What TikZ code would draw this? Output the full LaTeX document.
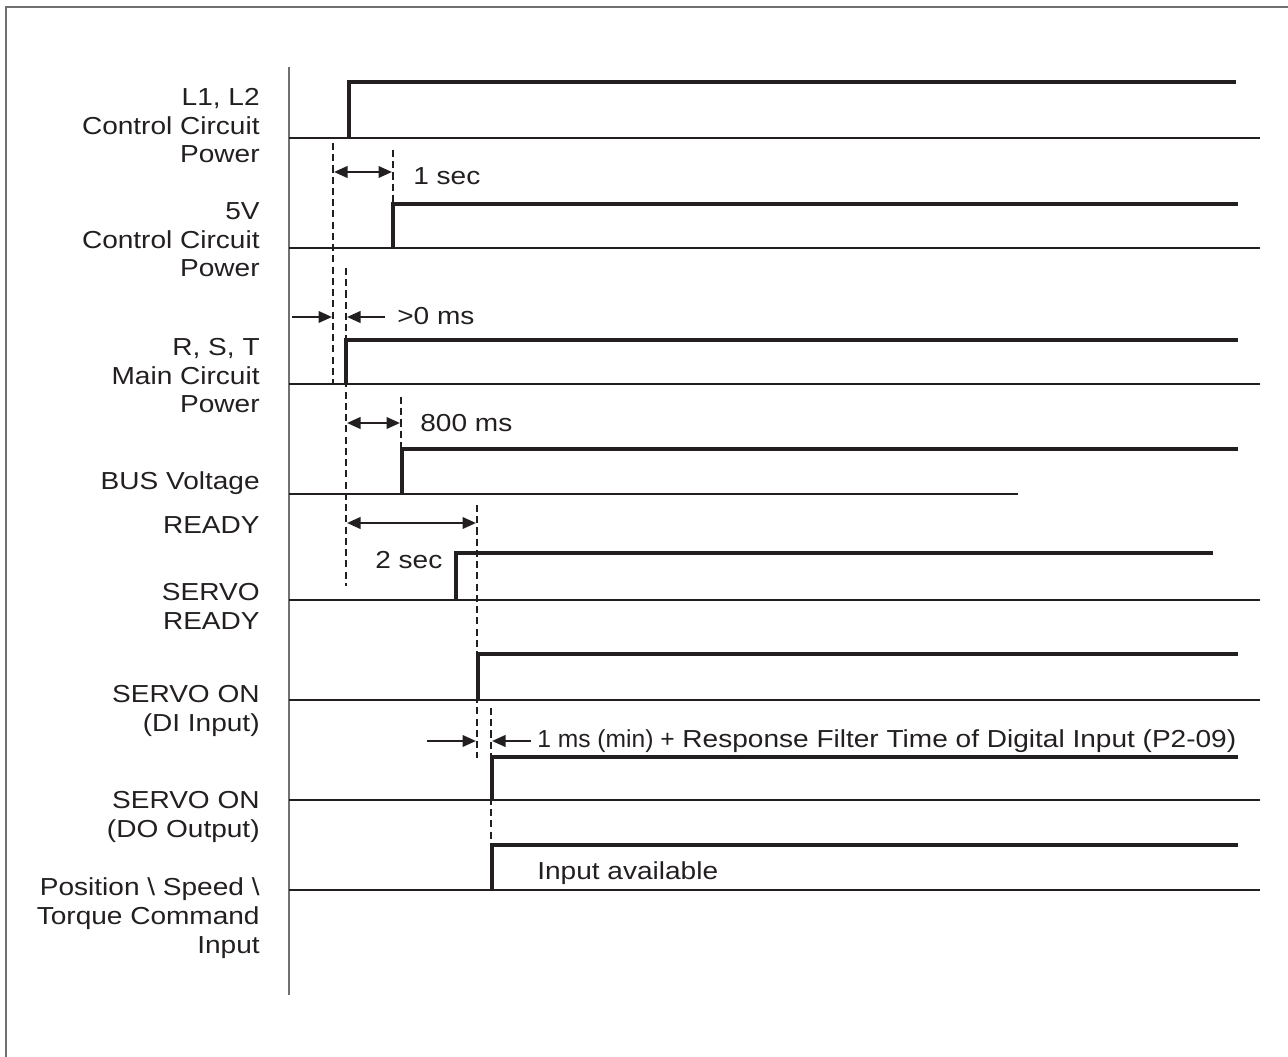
\documentclass[tikz,border=0pt]{standalone}
\usepackage{fontspec}
\setmainfont{Liberation Sans}[FakeStretch=1.14]
\newfontfamily\condensedfont{Liberation Sans}
\usetikzlibrary{arrows.meta}
\definecolor{frameGray}{RGB}{112,112,112}
\definecolor{inkBlack}{RGB}{35,31,32}
\tikzset{
  baseln/.style={inkBlack,line width=1pt},
  sigline/.style={inkBlack,line width=1.8pt},
  guideline/.style={inkBlack,line width=1.4pt,dash pattern=on 4pt off 2.4pt},
  dimarrow/.style={inkBlack,line width=1.3pt,-{Triangle[length=2.7mm,width=2.3mm]}},
  dimboth/.style={dimarrow,{Triangle[length=2.7mm,width=2.3mm]}-{Triangle[length=2.7mm,width=2.3mm]}},
  rowlabel/.style={align=right,anchor=base east,inner sep=0pt,text=inkBlack,font=\fontsize{14}{16.5}\selectfont},
  timenote/.style={anchor=base west,inner sep=0pt,text=inkBlack,font=\fontsize{14}{16.5}\selectfont}
}

\begin{document}
\begin{tikzpicture}[x=0.02cm,y=-0.02cm]
\useasboundingbox (0,0) rectangle (1288,1057);
\draw[frameGray,line width=1.2pt] (1288,7) -- (6,7) -- (6,1057);
\draw[frameGray,line width=1.2pt] (289,67) -- (289,995);

\foreach \y in {138,248,384,600,700,800,890}
  \draw[baseln] (289,\y) -- (1260,\y);
\draw[baseln] (289,494) -- (1018,494);

\foreach \x/\y/\h/\e in {349/138/82/1236,393/248/204/1238,346/384/340/1238,402/494/449/1238,
                        456/600/553/1213,478/700/654/1238,492/800/757/1238,492/890/845/1238}
  \draw[sigline] (\x,\y) -- (\x,\h) -- (\e,\h);

\foreach \y/\txt [count=\i] in {163/{L1, L2\\Control Circuit\\Power},277/{5V\\Control Circuit\\Power},
                               413/{R, S, T\\Main Circuit\\Power},489/BUS Voltage,533/READY,
                               629/SERVO\\READY,731/SERVO ON\\(DI Input),837/SERVO ON\\(DO Output),
                               953/Position \textbackslash{} Speed \textbackslash\\Torque Command\\Input}
  \node[rowlabel] (row\i) at (260,\y) {\txt};

\coordinate (tPowA) at (333,143);   \coordinate (tPowB) at (333,384);
\coordinate (tFiveA) at (393,150);  \coordinate (tFiveB) at (393,204);
\coordinate (tMainA) at (346,268);  \coordinate (tMainB) at (346,586);
\coordinate (tBusA) at (401,397);   \coordinate (tBusB) at (401,449);
\coordinate (tRdyA) at (477,505);   \coordinate (tRdyB) at (477,758);
\coordinate (tOutA) at (491,708);   \coordinate (tOutB) at (491,890);
\foreach \a/\b in {tPowA/tPowB,tFiveA/tFiveB,tMainA/tMainB,tBusA/tBusB,tRdyA/tRdyB,tOutA/tOutB}
  \draw[guideline] (\a) -- (\b);

\coordinate (secL) at (334,172);  \coordinate (secR) at (392,172);
\draw[dimboth] (secL) -- (secR);
\node[timenote] (secTxt) at (413,185) {1 sec};

\coordinate (msFromL) at (292,317); \coordinate (msToL) at (332,317);
\coordinate (msFromR) at (385,317); \coordinate (msToR) at (347,317);
\draw[dimarrow] (msFromL) -- (msToL);
\draw[dimarrow] (msFromR) -- (msToR);
\node[timenote] (msTxt) at (397,325) {>0 ms};

\coordinate (busL) at (347,423);  \coordinate (busR) at (400,423);
\draw[dimboth] (busL) -- (busR);
\node[timenote] (busTxt) at (420,432) {800 ms};

\coordinate (rdyL) at (347,523);  \coordinate (rdyR) at (476,523);
\draw[dimboth] (rdyL) -- (rdyR);
\node[timenote] (rdyTxt) at (375,568) {2 sec};

\coordinate (diFromL) at (427,741); \coordinate (diToL) at (476,741);
\coordinate (diFromR) at (531,741); \coordinate (diToR) at (492,741);
\draw[dimarrow] (diFromL) -- (diToL);
\draw[dimarrow] (diFromR) -- (diToR);
\node[timenote] (diTxt) at (537,747) {{\condensedfont 1 ms (min) +} Response Filter Time of Digital Input (P2-09)};

\node[timenote] (cmdTxt) at (537,879) {Input available};
\end{tikzpicture}
\end{document}
